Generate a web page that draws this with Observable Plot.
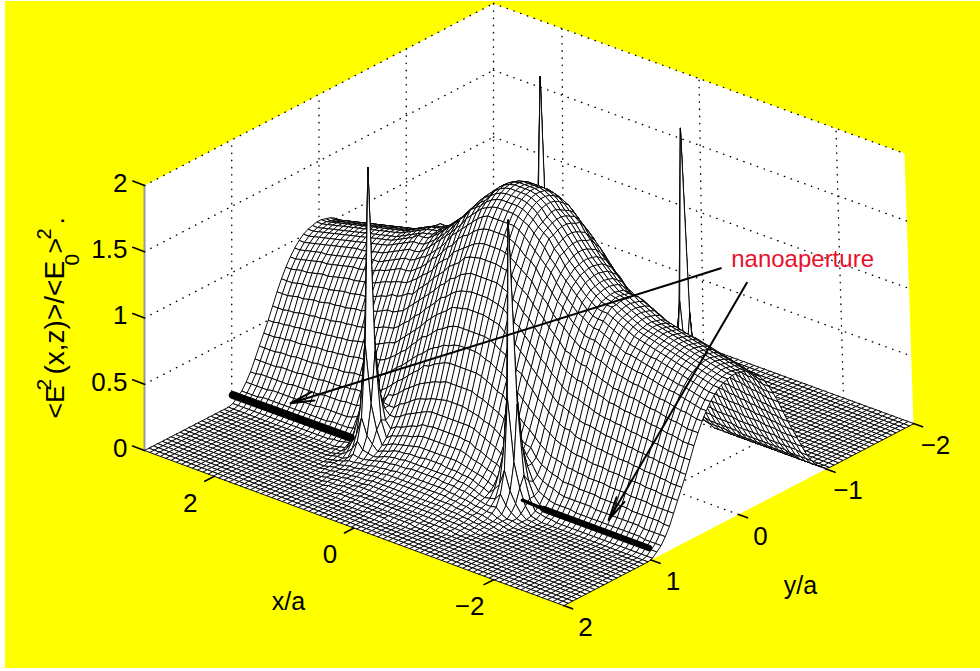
<!DOCTYPE html>
<html><head><meta charset="utf-8">
<script src="https://cdn.jsdelivr.net/npm/d3@7"></script>
<script src="https://cdn.jsdelivr.net/npm/@observablehq/plot@0.6"></script>
<style>
html,body{margin:0;padding:0;background:#fff}
svg{display:block;background:linear-gradient(#ff0,#ff0) 5px 1px/975px 667px no-repeat}
</style></head><body><div id="c"></div>
<script>
const xTicks=[2,0,-2];
const yTicks=[2,1,0,-1,-2];
const zTicks=[0,0.5,1,1.5,2];
const nNodes=80;
// Surface height x100. One quadrant: each list is one x node
// (x>=0, from the centre out), running from y=0 outward; nodes past the end of a list are 0.
const zCols=[
[188,187,185,182,178,172,165,156,147,136,125,114,101,90,77,65,54,44,36,29,23,19,15,13,10,8,7,5,4,3,2,2,1,1,1],
[188,187,185,182,178,172,165,156,147,136,125,114,101,90,77,65,54,44,36,29,23,19,15,13,10,8,7,5,4,3,2,2,1,1,1],
[187,186,184,181,177,172,164,155,146,136,124,113,101,89,77,65,53,44,36,29,23,18,15,13,10,8,7,5,4,3,2,2,1,1],
[185,184,182,179,175,170,162,153,145,134,123,112,100,87,76,63,52,44,35,29,23,18,15,12,10,8,7,5,4,3,2,2,1,1],
[182,181,179,176,173,167,159,150,143,132,121,111,98,86,74,62,51,43,35,28,22,18,15,12,10,8,6,5,4,3,2,2,1,1],
[178,176,174,172,169,163,155,147,138,128,118,107,95,83,72,60,49,41,32,26,21,17,14,12,9,8,6,5,4,3,2,2,1,1],
[174,173,171,169,165,159,153,144,135,126,114,104,93,81,69,58,48,39,31,25,20,17,14,11,9,7,6,5,4,3,2,1,1],
[170,169,167,166,161,155,149,141,132,121,112,101,89,78,68,56,46,37,29,24,19,16,13,11,8,7,6,4,3,3,2,1,1],
[165,164,162,160,155,151,143,135,127,118,107,97,85,74,63,53,43,35,27,22,18,14,12,10,8,6,5,4,3,2,2,1,1],
[160,159,157,156,151,147,140,132,123,113,103,93,83,71,60,50,40,32,26,21,16,13,10,9,7,6,5,4,3,2,2,1],
[155,154,152,150,146,141,135,128,119,109,99,88,78,67,56,47,38,30,23,18,14,11,9,8,6,5,4,3,3,2,1,1],
[150,149,148,145,142,136,130,122,114,105,94,84,74,63,52,43,34,30,28,30,24,15,10,7,6,4,4,3,2,2,1,1],
[146,145,144,141,138,132,127,118,110,101,91,80,69,59,49,40,34,34,48,80,42,20,11,7,5,4,3,2,2,1,1],
[142,141,140,137,134,128,122,115,106,97,86,76,66,56,45,39,35,44,90,217,85,32,16,8,5,3,2,2,1,1],
[138,137,136,133,130,124,118,111,101,93,83,72,62,52,41,33,30,30,45,80,38,18,9,4,3,2,2,1,1],
[135,134,133,130,126,122,115,108,100,89,79,68,59,49,38,29,23,20,22,28,20,10,5,2,2,2,1,1],
[132,131,130,127,123,119,112,105,97,87,76,67,56,46,35,27,20,14,12,12,8,4,2,2,1,1],
[131,130,129,126,122,117,111,104,95,85,75,65,54,44,34,25,18,12,7,4,2,1,1,1],
[130,129,129,126,122,117,111,103,95,85,74,63,54,43,33,24,17,10,6,3,1,1],
[128,127,126,124,120,115,109,101,92,83,72,61,51,41,31,22,15,9,4,2],
[126,125,124,122,118,113,107,100,91,81,71,60,50,40,31,22,14,9,4,2],
[124,123,122,120,116,111,105,98,89,80,69,60,50,40,30,22,14,9,4,1],
[122,121,120,118,114,109,104,96,88,79,68,59,49,39,30,21,14,9,4,1],
[120,119,118,116,112,107,102,95,86,77,67,58,48,38,29,21,14,8,4,1],
[119,118,117,115,111,107,101,94,86,77,67,57,48,38,29,21,14,8,4,1],
[118,117,116,114,110,106,100,93,85,76,66,57,47,38,29,21,14,8,4,1],
[117,116,115,113,109,105,99,92,84,75,66,56,47,37,29,20,13,8,4,1],
[116,115,114,112,108,104,99,92,84,75,65,56,46,37,28,20,13,8,4,1],
[115,114,113,111,108,103,98,91,83,74,64,55,46,37,28,20,13,8,4,1],
[114,113,112,110,107,102,97,90,82,74,64,55,46,36,28,20,13,8,4,1],
[113,112,111,109,106,101,96,89,81,73,63,54,45,36,28,20,13,8,4,1],
[112,111,110,108,105,100,95,88,81,72,63,54,45,36,27,20,13,8,4,1],
[111,110,109,107,104,99,94,88,80,72,62,53,44,36,27,19,13,8,4,1],
[110,109,108,106,103,98,94,87,79,71,62,53,44,35,27,19,13,8,4,1],
[109,108,107,105,102,98,93,86,78,70,61,52,44,35,27,19,13,8,4,1],
[108,107,106,104,101,97,92,85,78,70,60,52,43,35,26,19,12,8,4,1],
[107,106,105,103,100,96,91,85,77,69,60,51,43,34,26,19,12,7,4,1],
[106,105,104,102,99,95,90,84,76,68,59,51,42,34,26,19,12,7,4,1],
[105,104,103,101,98,94,89,83,76,68,59,50,42,34,26,18,12,7,4,1],
[105,104,103,101,98,94,89,83,76,68,59,50,42,34,26,18,12,7,4,1]
];
// aperture bars and arrows, in axis units (x, y, z)
const barThick=[[3.16,0.86,0],[1.49,0.85,0]];
const barFront=[[-1.28,0.854,0],[-2.79,0.856,0]];
const barThin=[[-0.96,0.84,0],[-1.28,0.854,0]];
const arrowsData=[{from:[-0.27,-2,0.637],to:[2.545,0.69,0]},{from:[-0.643,-2,0.6],to:[-2.0,0.685,0]}];
const noteAt=[-1.46,-2,0.93];

// view of the axes box: corner positions of the MATLAB-style camera
const cFloor=[[144,450],[563,605],[493,270],[913,423]];
const cTop=[[144,185],[555,340],[493,3],[904,153]];
function pr(x,y,z){
  const u=(3-x)/6,v=(2-y)/4,w=z/2;
  const f=k=>{
    const a=cFloor[0][k]*(1-u)*(1-v)+cFloor[1][k]*u*(1-v)+cFloor[2][k]*(1-u)*v+cFloor[3][k]*u*v;
    const b=cTop[0][k]*(1-u)*(1-v)+cTop[1][k]*u*(1-v)+cTop[2][k]*(1-u)*v+cTop[3][k]*u*v;
    return a*(1-w)+b*w;};
  return [f(0),f(1)];
}
const P=(x,y,z)=>{const p=pr(x,y,z);return {px:p[0],py:p[1]};};

const q=I=>I>=nNodes/2?I-nNodes/2:nNodes/2-1-I;
const Z=(I,J)=>{const v=zCols[q(I)][q(J)];return (v===undefined?0:v)/100;};
const xN=I=>-3+I*6/(nNodes-1), yN=J=>-2+J*4/(nNodes-1);

// white faces, far to near
const faces=[];
let id=0;
for(let I=nNodes-2;I>=0;I--)for(let J=0;J<nNodes-1;J++){
  id++;
  for(const [a,b] of [[I,J],[I+1,J],[I+1,J+1],[I,J+1]]){
    const p=pr(xN(a),yN(b),Z(a,b));
    faces.push({id,px:p[0],py:p[1]});
  }
}
const box=[[3,2,0],[3,2,2],[3,-2,2],[-3,-2,2],[-3,-2,0],[-3,2,0]].map(c=>P(...c));
const grid=[];let g=0;
const seg=(a,b)=>{g++;grid.push({g,...P(...a)},{g,...P(...b)});};
for(const z of zTicks){seg([3,2,z],[3,-2,z]);seg([3,-2,z],[-3,-2,z]);}
for(const t of yTicks.slice(1,4)){seg([3,t,0],[3,t,2]);seg([3,t,0],[-3,t,0]);}
for(const t of xTicks){seg([t,-2,0],[t,-2,2]);seg([t,2,0],[t,-2,0]);}
seg([3,-2,0],[3,-2,2]);
const ticks=[];let k=0;
const tk=(a,b)=>{k++;ticks.push({k,...P(...a)},{k,...P(...b)});};
for(const z of zTicks)tk([3,2,z],[3.17,2,z]);
for(const t of xTicks)tk([t,2,0],[t,2.11,0]);
for(const t of yTicks)tk([-3,t,0],[-3.13,t,0]);
const lab=t=>String(t).replace("-","\u2212");
const zLab=zTicks.map(t=>({t:String(t),...P(3,2,t)}));
const xLab=xTicks.map(t=>({t:lab(t),...P(t,2,0)}));
const yLab=yTicks.map(t=>({t:lab(t),...P(-3,t,0)}));
const arrows=arrowsData.map(a=>{const s=pr(...a.from),e=pr(...a.to);return {x1:s[0],y1:s[1],x2:e[0],y2:e[1]};});
const asL=a=>a.map(c=>P(...c));
const base=P(3,2,0);
const yTitle=[["<E",418,26.5,63.5],["2",390,21,50],["(x,z)>/<E",374,28,63.5],["0",265,21,78],[">",253,26.5,63.5],["2",239,20,50],[".",224,26.5,63.5]];
const font="Liberation Sans, Arial, sans-serif";
const chart=Plot.plot({
  width:980,height:671,margin:0,
  x:{domain:[0,980],range:[0,980],axis:null},
  y:{domain:[0,671],range:[0,671],axis:null},
  marks:[
    Plot.line(box,{x:"px",y:"py",fill:"white",stroke:"none",curve:"linear-closed"}),
    Plot.line(grid,{x:"px",y:"py",z:"g",stroke:"black",strokeWidth:1.4,strokeDasharray:"0.4,6.8"}),
    Plot.line(asL([[3,2,0],[3,2,2]]),{x:"px",y:"py",stroke:"#999",strokeWidth:2}),
    Plot.line(faces,{x:"px",y:"py",z:"id",fill:"white",stroke:"black",strokeWidth:0.95,curve:"linear-closed"}),
    Plot.line(asL(barThick),{x:"px",y:"py",stroke:"black",strokeWidth:8}),
    Plot.line(asL(barFront),{x:"px",y:"py",stroke:"black",strokeWidth:6.5}),
    Plot.line(asL(barThin),{x:"px",y:"py",stroke:"black",strokeWidth:3.5}),
    Plot.arrow(arrows,{x1:"x1",y1:"y1",x2:"x2",y2:"y2",stroke:"black",strokeWidth:2,headLength:18,headAngle:22}),
    Plot.line(ticks,{x:"px",y:"py",z:"k",stroke:"black",strokeWidth:1.6}),
    Plot.text(zLab,{x:"px",y:"py",text:"t",dx:-17,dy:-2,textAnchor:"end",fontSize:26,fontFamily:font,fill:"black"}),
    Plot.text(xLab,{x:"px",y:"py",text:"t",dx:-24,dy:27,fontSize:26,fontFamily:font,fill:"black"}),
    Plot.text(yLab,{x:"px",y:"py",text:"t",dx:22,dy:22,fontSize:26,fontFamily:font,fill:"black"}),
    Plot.text(["x/a"],{x:()=>base.px,y:()=>base.py,dx:144,dy:151,fontSize:25,fontFamily:font,fill:"black"}),
    Plot.text(["y/a"],{x:()=>base.px,y:()=>base.py,dx:656,dy:135,fontSize:25,fontFamily:font,fill:"black"}),
    Plot.text(["nanoaperture"],{x:()=>pr(...noteAt)[0],y:()=>pr(...noteAt)[1],fontSize:24,fontFamily:font,fill:"#e8112d"}),
    ...yTitle.map(([t,y,s,x])=>Plot.text([t],{x:()=>x,y:()=>y,rotate:-90,textAnchor:"start",lineAnchor:"bottom",fontSize:s,fontFamily:font,fill:"black"}))
  ]
});
document.getElementById("c").appendChild(chart);
</script></body></html>
